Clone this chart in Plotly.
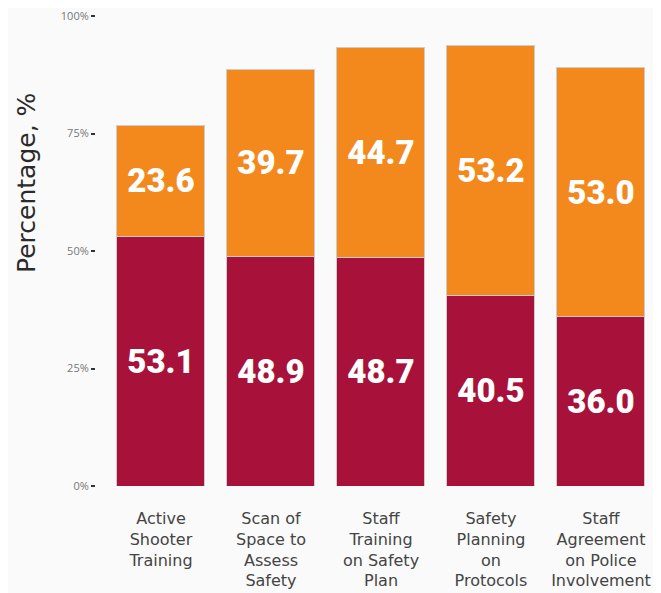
import plotly.graph_objects as go

categories = ["Active<br>Shooter<br>Training", "Scan of<br>Space to<br>Assess<br>Safety",
              "Staff<br>Training<br>on Safety<br>Plan", "Safety<br>Planning<br>on<br>Protocols",
              "Staff<br>Agreement<br>on Police<br>Involvement"]
bottom_vals = [53.1, 48.9, 48.7, 40.5, 36.0]
top_vals = [23.6, 39.7, 44.7, 53.2, 53.0]
y_ticks = [0, 25, 50, 75, 100]
y_ticktext = ["0%", "25%", "50%", "75%", "100%"]

RED = "#A8123A"
ORANGE = "#F3891D"
FONT = "DejaVu Sans"
NUMFONT = "Roboto"
BG = "#FAFAFA"

fig = go.Figure()
fig.add_trace(go.Bar(
    x=list(range(5)), y=bottom_vals, marker=dict(color=RED, line=dict(color="#cccccc", width=1)),
    text=[f"{v:.1f}" for v in bottom_vals], textposition="inside", insidetextanchor="middle",
    textfont=dict(family=NUMFONT, size=33, color="white", weight=900), width=0.8,
    showlegend=False))
fig.add_trace(go.Bar(
    x=list(range(5)), y=top_vals, marker=dict(color=ORANGE, line=dict(color="#cccccc", width=1)),
    text=[f"{v:.1f}" for v in top_vals], textposition="inside", insidetextanchor="middle",
    textfont=dict(family=NUMFONT, size=33, color="white", weight=900), width=0.8,
    showlegend=False))

fig.update_layout(
    barmode="stack",
    width=653, height=585,
    margin=dict(l=87, r=5, t=8, b=107),
    paper_bgcolor=BG, plot_bgcolor=BG,
    uniformtext=dict(minsize=10, mode="show"),
    font=dict(family=FONT),
    xaxis=dict(domain=[0.0196, 1.0], range=[-0.5, 4.5], showgrid=False, showline=False,
               zeroline=False, automargin=False,
               tickvals=list(range(5)), ticktext=categories,
               tickfont=dict(family=FONT, size=16, color="#444444"), ticks="", tickangle=0,
               ticklabelstandoff=21),
    yaxis=dict(range=[0, 100], anchor="free", position=0, tickvals=y_ticks, ticktext=y_ticktext,
               showgrid=False, zeroline=False, showline=False, ticks="outside", ticklen=4,
               tickwidth=1.5, tickcolor="#333333", automargin=False,
               ticklabeloverflow="allow",
               tickfont=dict(family="Open Sans", size=11, color="#777777")),
    annotations=[dict(text="Percentage, %", textangle=-90, xref="paper", yref="paper",
                      x=-0.121, y=0.645, xanchor="center", yanchor="middle", showarrow=False,
                      font=dict(family=FONT, size=25, color="#2a2a2a"))],
)

fig.write_html("out.html")
